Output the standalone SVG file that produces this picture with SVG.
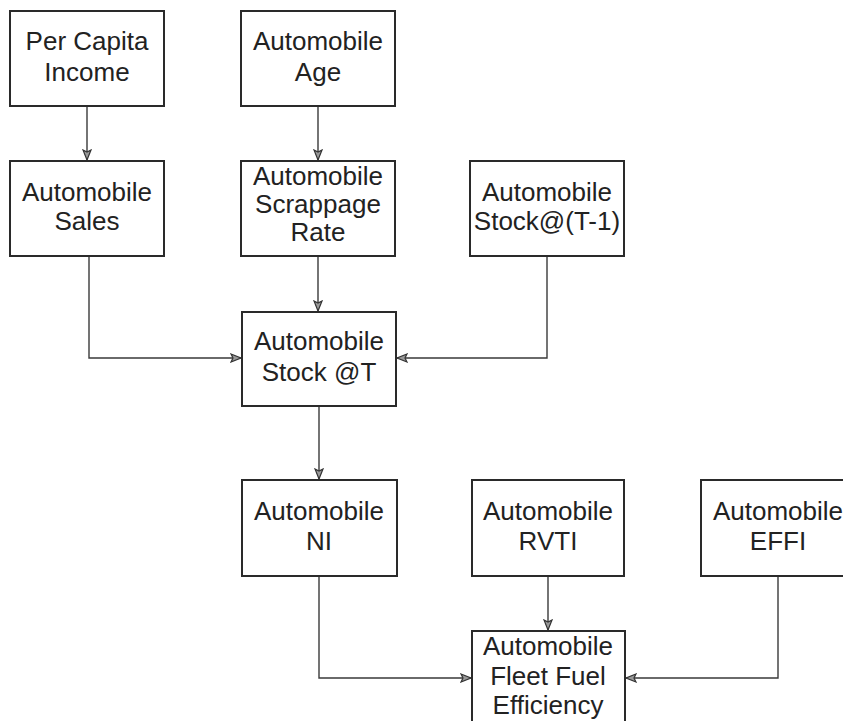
<svg xmlns="http://www.w3.org/2000/svg" width="843" height="721" viewBox="0 0 843 721">
<defs>
<style>
.box{fill:#fff;stroke:#2a2a2a;stroke-width:2}
.lbl{font-family:"Liberation Sans",Arial,sans-serif;font-size:26px;fill:#222;text-anchor:middle}
.con{fill:none;stroke:#3a3a3a;stroke-width:1.4}
</style>
<marker id="arr" markerUnits="userSpaceOnUse" markerWidth="12" markerHeight="10" viewBox="0 0 12 10" refX="11" refY="5" orient="auto">
<polygon points="1,1 11,5 1,9 3,5" fill="#999" stroke="#333" stroke-width="1.2" stroke-linejoin="miter"/>
</marker>
</defs>
<rect width="843" height="721" fill="#fff"/>
<g id="connectors">
<path class="con" d="M87,106 V160" marker-end="url(#arr)"/>
<path class="con" d="M318,106 V160" marker-end="url(#arr)"/>
<path class="con" d="M318,256 V311" marker-end="url(#arr)"/>
<path class="con" d="M89,256 V358 H241" marker-end="url(#arr)"/>
<path class="con" d="M547,256 V358 H397" marker-end="url(#arr)"/>
<path class="con" d="M319,406 V479" marker-end="url(#arr)"/>
<path class="con" d="M319,576 V678 H471" marker-end="url(#arr)"/>
<path class="con" d="M548,576 V630" marker-end="url(#arr)"/>
<path class="con" d="M778,576 V678 H626" marker-end="url(#arr)"/>
</g>
<g id="per-capita-income">
<rect class="box" x="10" y="11" width="154" height="95"/>
<text class="lbl" x="87" y="50">Per Capita</text>
<text class="lbl" x="87" y="81">Income</text>
</g>
<g id="automobile-age">
<rect class="box" x="241" y="11" width="154" height="95"/>
<text class="lbl" x="318" y="50">Automobile</text>
<text class="lbl" x="318" y="81">Age</text>
</g>
<g id="automobile-sales">
<rect class="box" x="10" y="161" width="154" height="95"/>
<text class="lbl" x="87" y="201">Automobile</text>
<text class="lbl" x="87" y="230">Sales</text>
</g>
<g id="automobile-scrappage-rate">
<rect class="box" x="241" y="161" width="154" height="95"/>
<text class="lbl" x="318" y="185">Automobile</text>
<text class="lbl" x="318" y="213">Scrappage</text>
<text class="lbl" x="318" y="241">Rate</text>
</g>
<g id="automobile-stock-t-1">
<rect class="box" x="470" y="161" width="154" height="95"/>
<text class="lbl" x="547" y="201">Automobile</text>
<text class="lbl" x="547" y="230">Stock@(T-1)</text>
</g>
<g id="automobile-stock-t">
<rect class="box" x="242" y="312" width="154" height="94"/>
<text class="lbl" x="319" y="350">Automobile</text>
<text class="lbl" x="319" y="381">Stock @T</text>
</g>
<g id="automobile-ni">
<rect class="box" x="242" y="480" width="155" height="96"/>
<text class="lbl" x="319" y="520">Automobile</text>
<text class="lbl" x="319" y="550">NI</text>
</g>
<g id="automobile-rvti">
<rect class="box" x="472" y="480" width="152" height="96"/>
<text class="lbl" x="548" y="520">Automobile</text>
<text class="lbl" x="548" y="550">RVTI</text>
</g>
<g id="automobile-effi">
<rect class="box" x="701" y="480" width="154" height="96"/>
<text class="lbl" x="778" y="520">Automobile</text>
<text class="lbl" x="778" y="550">EFFI</text>
</g>
<g id="automobile-fleet-fuel-efficiency">
<rect class="box" x="472" y="631" width="153" height="96"/>
<text class="lbl" x="548" y="655">Automobile</text>
<text class="lbl" x="548" y="685">Fleet Fuel</text>
<text class="lbl" x="548" y="714">Efficiency</text>
</g>
</svg>
